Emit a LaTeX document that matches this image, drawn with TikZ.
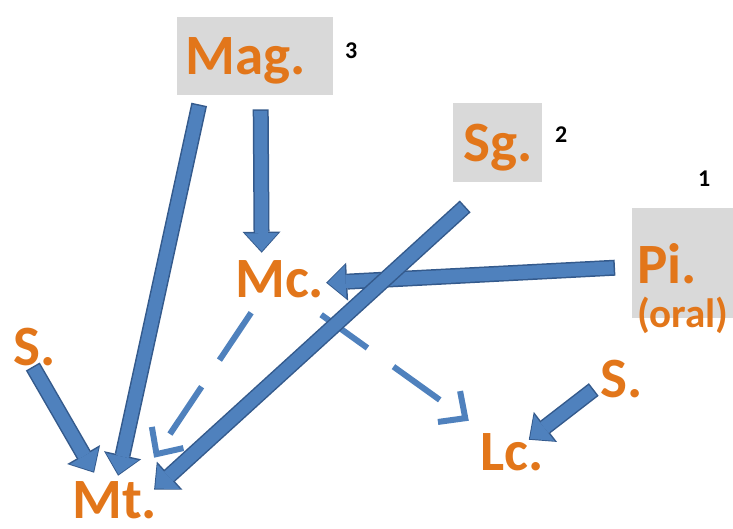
\documentclass[tikz,border=0pt]{standalone}
\usepackage{fontspec}
\setmainfont{Carlito}
\usepackage{tikz}
\usetikzlibrary{arrows.meta,calc,positioning}
\definecolor{boxgray}{RGB}{217,217,217}
\definecolor{txtorange}{RGB}{226,118,26}
\definecolor{arrfill}{RGB}{79,129,189}
\definecolor{arrline}{RGB}{52,90,140}

\begin{document}
\begin{tikzpicture}[x=1pt, y=-1pt,
  source/.style={rectangle, fill=boxgray, anchor=north west, inner ysep=0pt, text depth=0pt, align=left, text=txtorange, font=\fontsize{57}{44}\selectfont\bfseries},
  drug/.style={anchor=base west, inner sep=0pt, text=txtorange, font=\fontsize{57}{57}\selectfont\bfseries},
  rank/.style={anchor=base west, inner sep=0pt, font=\fontsize{24}{24}\selectfont\bfseries},
  arrow/.style={draw=arrline, line width=16pt, -{Triangle[width=38pt,length=21pt,line width=0pt]}, postaction={draw=arrfill, line width=13pt, -{Triangle[width=33pt,length=18pt,line width=0pt]}, shorten >=1.5pt, shorten <=1.5pt}},
  dasharrow/.style={draw=arrfill, line width=6pt, dash pattern=on 57pt off 32pt, -{Straight Barb[length=20pt,width=38pt,line width=6pt]}}
]
\useasboundingbox (0,0) rectangle (733,529);

\node[source, minimum width=156pt, minimum height=78pt, inner xsep=8pt, text width=140pt] (mag) at (177,17) {Mag.};
\node[source, minimum width=89pt, minimum height=79pt, inner xsep=10pt, text width=69pt] (sg) at (453,103) {Sg.};
\node[source, minimum width=110pt, minimum height=110pt, inner xsep=5pt, text width=100pt] (pi) at (632,208) {Pi.\\{\fontsize{41}{44}\selectfont(oral)}};

\node[drug] (mc) at (235,298) {Mc.};
\node[drug] (mt) at (72,518) {Mt.};
\node[drug] (lc) at (480,470) {Lc.};
\node[drug] (sl) at (13,365) {S.};
\node[drug] (sr) at (600,397) {S.};

\node[rank] (r3) at (345,59) {3};
\node[rank] (r2) at (555,143) {2};
\node[rank] (r1) at (698,187) {1};

\draw[dasharrow] ($(mc.center)+(-28.5,33)$) -- ($(mt.center)+(39.5,-42)$);
\draw[dasharrow] ($(mc.center)+(41.5,35)$) -- ($(lc.center)+(-43,-31)$);
\draw[arrow] ($(pi.west)+(-17,4.5)$) -- ($(mc.center)+(46.5,3)$);
\draw[arrow] ($(mag.south)+(5.5,14)$) -- ($(mc.center)+(-18,-27)$);
\draw[arrow] ($(mag.south)+(-56,9)$) -- ($(mt.center)+(3.5,-24)$);
\draw[arrow] ($(sl.center)+(-1.5,20)$) -- ($(mt.center)+(-20.5,-27)$);
\draw[arrow] ($(sr.center)+(-27.5,11)$) -- ($(lc.center)+(17,-12)$);
\draw[arrow] ($(sg.south)+(-32.5,24)$) -- ($(mt.center)+(39.5,-10)$);

\end{tikzpicture}
\end{document}
